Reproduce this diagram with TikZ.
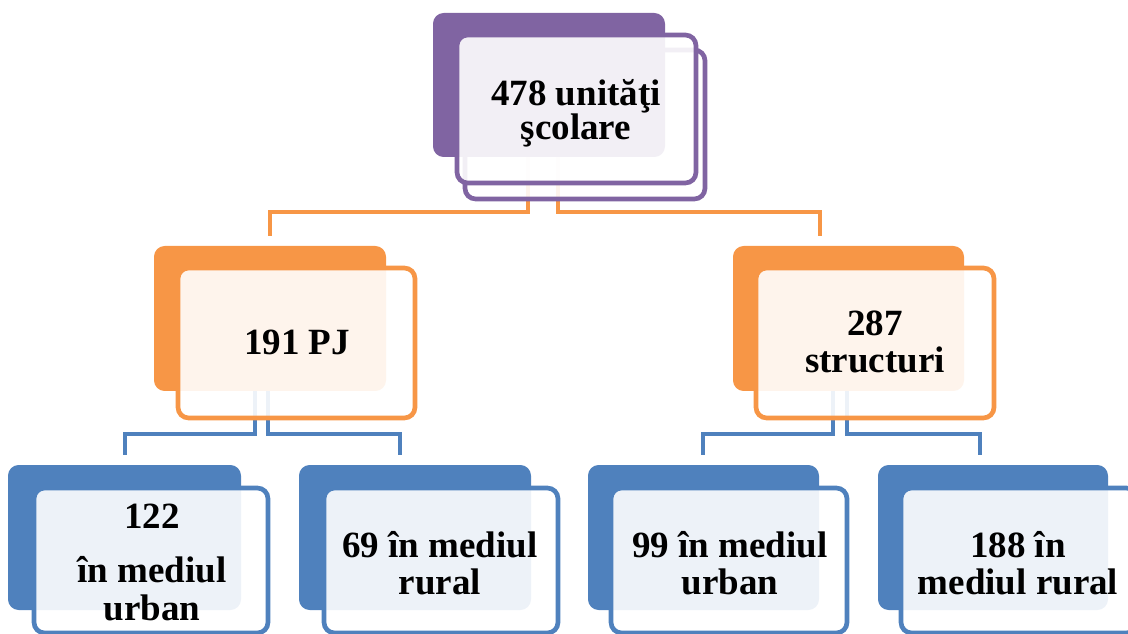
\documentclass[tikz,border=0pt]{standalone}
\usepackage{fontspec}
\setmainfont{Liberation Serif}
\usetikzlibrary{fit}
\definecolor{cpurple}{HTML}{8064A2}
\definecolor{corange}{HTML}{F79646}
\definecolor{cblue}{HTML}{4F81BD}
\newcommand\mystack[2]{\vtop{\baselineskip=#1\lineskiplimit=-1000pt\lineskip=0pt\halign{\hfil##\hfil\cr#2\crcr}}}
\begin{document}
\begin{tikzpicture}[x=0.75pt,y=-0.75pt,
  backbox/.style={fill=#1,draw=none,rounded corners=8pt,inner sep=0pt,outer sep=0pt},
  frontbox/.style={draw=#1,line width=3.5pt,fill=white,fill opacity=0.9,rounded corners=8pt,inner sep=0pt,outer sep=0pt},
  conn/.style={draw=#1,line width=3.6pt},
  lbl/.style={anchor=base,inner sep=0pt,font=\fontsize{27.75pt}{33pt}\selectfont\bfseries}]
\useasboundingbox (0,0) rectangle (1128,634);

% connectors (drawn behind the boxes)
\coordinate (oa0) at (528,100); \coordinate (oa1) at (270,212); \coordinate (oa2) at (270,236);
\coordinate (ob0) at (558,100); \coordinate (ob1) at (820,212); \coordinate (ob2) at (820,236);
\draw[conn=corange] (oa0) |- (oa1) -- (oa2);
\draw[conn=corange] (ob0) |- (ob1) -- (ob2);
\coordinate (ba0) at (255,320); \coordinate (ba1) at (125,434); \coordinate (ba2) at (125,455);
\coordinate (bb0) at (268,320); \coordinate (bb1) at (400,434); \coordinate (bb2) at (400,455);
\coordinate (bc0) at (833,320); \coordinate (bc1) at (703,434); \coordinate (bc2) at (703,455);
\coordinate (bd0) at (847,320); \coordinate (bd1) at (980,434); \coordinate (bd2) at (980,455);
\draw[conn=cblue] (ba0) |- (ba1) -- (ba2);
\draw[conn=cblue] (bb0) |- (bb1) -- (bb2);
\draw[conn=cblue] (bc0) |- (bc1) -- (bc2);
\draw[conn=cblue] (bd0) |- (bd1) -- (bd2);

% top box
\node[frontbox=cpurple,fit={(465,50) (705,199)}] (topf2) {};
\node[backbox=cpurple,fit={(433,13) (665,157)}] (topb) {};
\node[frontbox=cpurple,fit={(457,35) (696,183)}] (topf) {};

% middle boxes
\node[backbox=corange,fit={(154,246) (386,391)}] (pjb) {};
\node[frontbox=corange,fit={(178,268) (415,418)}] (pjf) {};
\node[backbox=corange,fit={(733,246) (964,391)}] (stb) {};
\node[frontbox=corange,fit={(756,268) (994,418)}] (stf) {};

% bottom boxes
\node[backbox=cblue,fit={(8,465) (241,610)}] (ab) {};
\node[frontbox=cblue,fit={(34,488) (268,633)}] (af) {};
\node[backbox=cblue,fit={(299,465) (531,610)}] (bb) {};
\node[frontbox=cblue,fit={(324,488) (558,633)}] (bf) {};
\node[backbox=cblue,fit={(588,465) (819,610)}] (cb) {};
\node[frontbox=cblue,fit={(611,488) (847,633)}] (cf) {};
\node[backbox=cblue,fit={(878,465) (1108,610)}] (db) {};
\node[frontbox=cblue,fit={(901,488) (1137,633)}] (df) {};

% labels
\node[lbl] (ttop) at (576,106) {\mystack{25pt}{478 unităţi\cr şcolare}};
\node[lbl] (tpj) at (297,355) {191 PJ};
\node[lbl] (tst) at (875,336) {\mystack{27.75pt}{287\cr structuri}};
\node[lbl] (ta) at (152,528) {\mystack{28.5pt}{122\cr\noalign{\vskip12pt} în mediul\cr urban}};
\node[lbl] (tb) at (440,557) {\mystack{27.75pt}{69 în mediul\cr rural}};
\node[lbl] (tc) at (730,557) {\mystack{27.75pt}{99 în mediul\cr urban}};
\node[lbl] (td) at (1018,557) {\mystack{27.75pt}{188 în\cr mediul rural}};
\end{tikzpicture}
\end{document}
